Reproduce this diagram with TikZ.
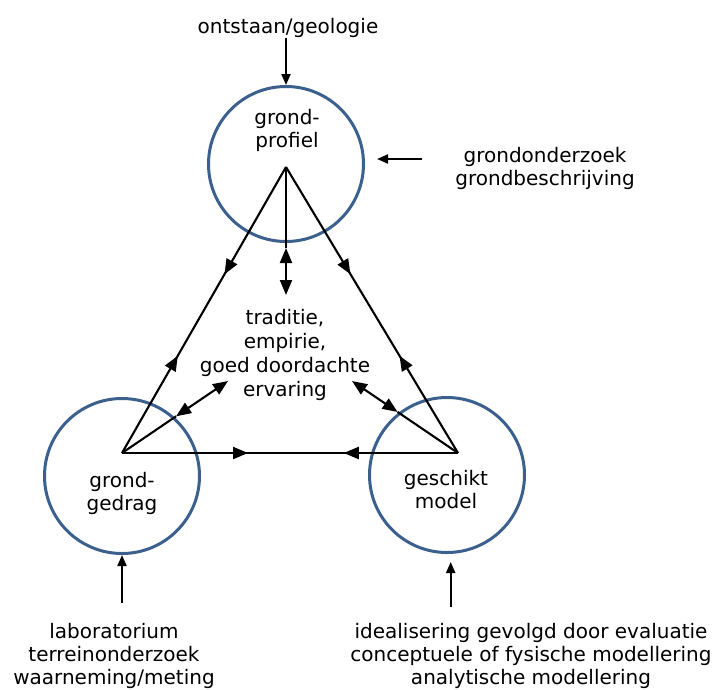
\documentclass[tikz,border=0pt]{standalone}
\usepackage{fontspec}
\setmainfont{DejaVu Sans}
\usetikzlibrary{arrows.meta,decorations.markings,calc}
\definecolor{ringblue}{RGB}{60,96,142}
\tikzset{
  big/.tip={Triangle[length=15pt,width=12pt]},
  small/.tip={Triangle[length=11pt,width=9pt]},
  ring/.style={circle,draw=ringblue,line width=3pt,minimum size=155pt,inner sep=0pt},
  lbl/.style={font=\fontsize{20}{23}\selectfont,align=center,inner sep=0pt},
  clbl/.style={font=\fontsize{20}{23.8}\selectfont,align=center,inner sep=0pt},
  edge/.style={line width=2.1pt,black},
  feed/.style={line width=2.1pt,black,-small},
  twoway/.style={edge,postaction={decorate},decoration={markings,
     mark=at position 0.375 with {\arrow{big}},
     mark=at position 0.66 with {\arrowreversed{big}}}}
}
\begin{document}
\begin{tikzpicture}[x=1pt,y=-1pt]
\useasboundingbox (0,0) rectangle (714,689);
% circles
\node[ring] (P) at (286,164) {};
\node[ring] (G) at (122,476) {};
\node[ring] (M) at (447,475) {};
% circle labels
\node[lbl] (Pt) at (287,130.5) {grond-\\profiel};
\node[lbl] (Gt) at (122,493.5) {grond-\\gedrag};
\node[lbl] (Mt) at (446,490) {geschikt\\model};
% triangle vertices
\coordinate (A) at (286,167);
\coordinate (B) at (122,453);
\coordinate (C) at (458,453);
\draw[twoway] (A) -- (B);
\draw[twoway] (A) -- (C);
\draw[twoway] (B) -- (C);
% centre text
\node[clbl] (X) at (285,355) {traditie,\\empirie,\\goed doordachte\\ervaring};
% arrows to centre
\coordinate (T1) at (286,248);
\coordinate (T2) at (286,295);
\draw[edge] (A) -- (T1);
\draw[edge,big-big] (T1) -- (T2);
\coordinate (L2) at (228,381);
\coordinate (L1) at ($(B)!0.51!(L2)$);
\draw[edge] (B) -- (L1);
\draw[edge,big-big] (L1) -- (L2);
\coordinate (R2) at (352,381);
\coordinate (R1) at ($(C)!0.57!(R2)$);
\draw[edge] (C) -- (R1);
\draw[edge,big-big] (R1) -- (R2);
% outer texts
\node[lbl] (O1) at (288,28) {ontstaan/geologie};
\node[lbl] (O2) at (545,168) {grondonderzoek\\grondbeschrijving};
\node[lbl] (O3) at (114,655.5) {laboratorium\\terreinonderzoek\\waarneming/meting};
\node[lbl] (O4) at (531,656) {idealisering gevolgd door evaluatie\\conceptuele of fysische modellering\\analytische modellering};
% feed arrows
\coordinate (a1) at (286,38);
\coordinate (a2) at (422,159);
\coordinate (a3) at (122,603);
\coordinate (a4) at (450.7,607);
\draw[feed] (a1) -- (P.north);
\draw[feed] (a2) -- (377,159);
\draw[feed] (a3) -- (G.south);
\draw[feed] (a4) -- (450.7,562);
\end{tikzpicture}
\end{document}
